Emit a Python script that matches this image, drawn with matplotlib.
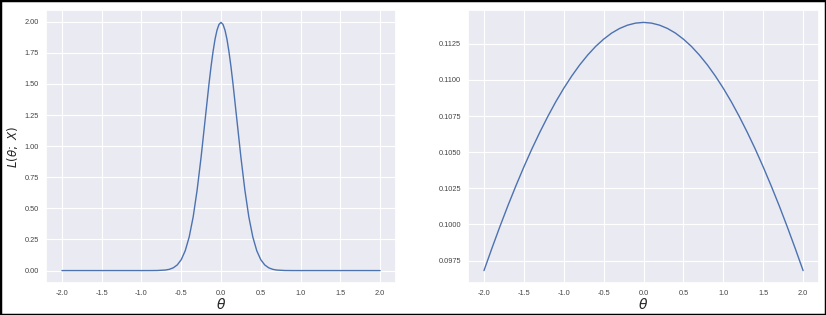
import numpy as np
import matplotlib
matplotlib.use("Agg")
import matplotlib.pyplot as plt
import seaborn as sns
from matplotlib.ticker import FormatStrFormatter, MultipleLocator
from matplotlib.patches import Rectangle

# left panel: narrow likelihood
theta_left = [-2.0, -1.5, -1.0, -0.9, -0.8, -0.7, -0.65, -0.6, -0.55, -0.5, -0.45,
              -0.4, -0.35, -0.3, -0.25, -0.2, -0.15, -0.125, -0.1, -0.075, -0.05,
              -0.025, 0.0, 0.025, 0.05, 0.075, 0.1, 0.125, 0.15, 0.2, 0.25, 0.3,
              0.35, 0.4, 0.45, 0.5, 0.55, 0.6, 0.65, 0.7, 0.8, 0.9, 1.0, 1.5, 2.0]
lik_left = [0.0, 0.0, 0.0, 0.0001, 0.0007, 0.0044, 0.0102, 0.0222, 0.0455, 0.0876, 0.159,
            0.270, 0.431, 0.648, 0.913, 1.210, 1.506, 1.641, 1.760, 1.860, 1.933,
            1.979, 1.995, 1.979, 1.933, 1.860, 1.760, 1.641, 1.506, 1.210, 0.913, 0.648,
            0.431, 0.270, 0.159, 0.0876, 0.0455, 0.0222, 0.0102, 0.0044, 0.0007, 0.0001,
            0.0, 0.0, 0.0]

# right panel: wide likelihood
theta_right = [-2.0, -1.9, -1.8, -1.7, -1.6, -1.5, -1.4, -1.3, -1.2, -1.1, -1.0,
               -0.9, -0.8, -0.7, -0.6, -0.5, -0.4, -0.3, -0.2, -0.1, 0.0,
               0.1, 0.2, 0.3, 0.4, 0.5, 0.6, 0.7, 0.8, 0.9, 1.0,
               1.1, 1.2, 1.3, 1.4, 1.5, 1.6, 1.7, 1.8, 1.9, 2.0]
lik_right = [0.09681, 0.09836, 0.09986, 0.10130, 0.10267, 0.10398, 0.10522, 0.10638,
             0.10747, 0.10849, 0.10942, 0.11027, 0.11104, 0.11172, 0.11232, 0.11282,
             0.11324, 0.11356, 0.11379, 0.11393, 0.11398,
             0.11393, 0.11379, 0.11356, 0.11324, 0.11282, 0.11232, 0.11172, 0.11104,
             0.11027, 0.10942, 0.10849, 0.10747, 0.10638, 0.10522, 0.10398, 0.10267,
             0.10130, 0.09986, 0.09836, 0.09681]

sns.set_theme(style="darkgrid")
plt.rcParams['font.family'] = ['Liberation Sans', 'DejaVu Sans']
plt.rcParams['grid.linewidth'] = 0.8

fig = plt.figure(figsize=(8.26, 3.15), dpi=100)
ax1 = fig.add_axes([0.0557, 0.1016, 0.4237, 0.8667])
ax2 = fig.add_axes([0.5666, 0.1016, 0.4250, 0.8667])

line_color = '#4c72b0'

ax1.plot(theta_left, lik_left, color=line_color, lw=1.0)
ax1.yaxis.set_major_locator(MultipleLocator(0.25))
ax1.yaxis.set_major_formatter(FormatStrFormatter('%.2f'))
ax1.set_ylabel(r'$L(\theta;\ X)$', fontsize=8.5)
ax1.yaxis.set_label_coords(-0.074, 0.5)

ax2.plot(theta_right, lik_right, color=line_color, lw=1.0)
ax2.yaxis.set_major_locator(MultipleLocator(0.0025))
ax2.yaxis.set_major_formatter(FormatStrFormatter('%.4f'))

for ax in (ax1, ax2):
    ax.xaxis.set_major_locator(MultipleLocator(0.5))
    ax.xaxis.set_major_formatter(FormatStrFormatter('%.1f'))
    ax.tick_params(labelsize=5.3, colors='#444444', length=0, pad=5)
    ax.set_xlabel(r'$\theta$', fontsize=10, va='center')
    ax.xaxis.set_label_coords(0.5, -0.077)

# black frame around the whole picture
fig.patches.append(Rectangle((0, 0), 1, 1, transform=fig.transFigure,
                             fill=False, edgecolor='black', lw=2.5))

fig.savefig('out.png', dpi=100, facecolor='white')
